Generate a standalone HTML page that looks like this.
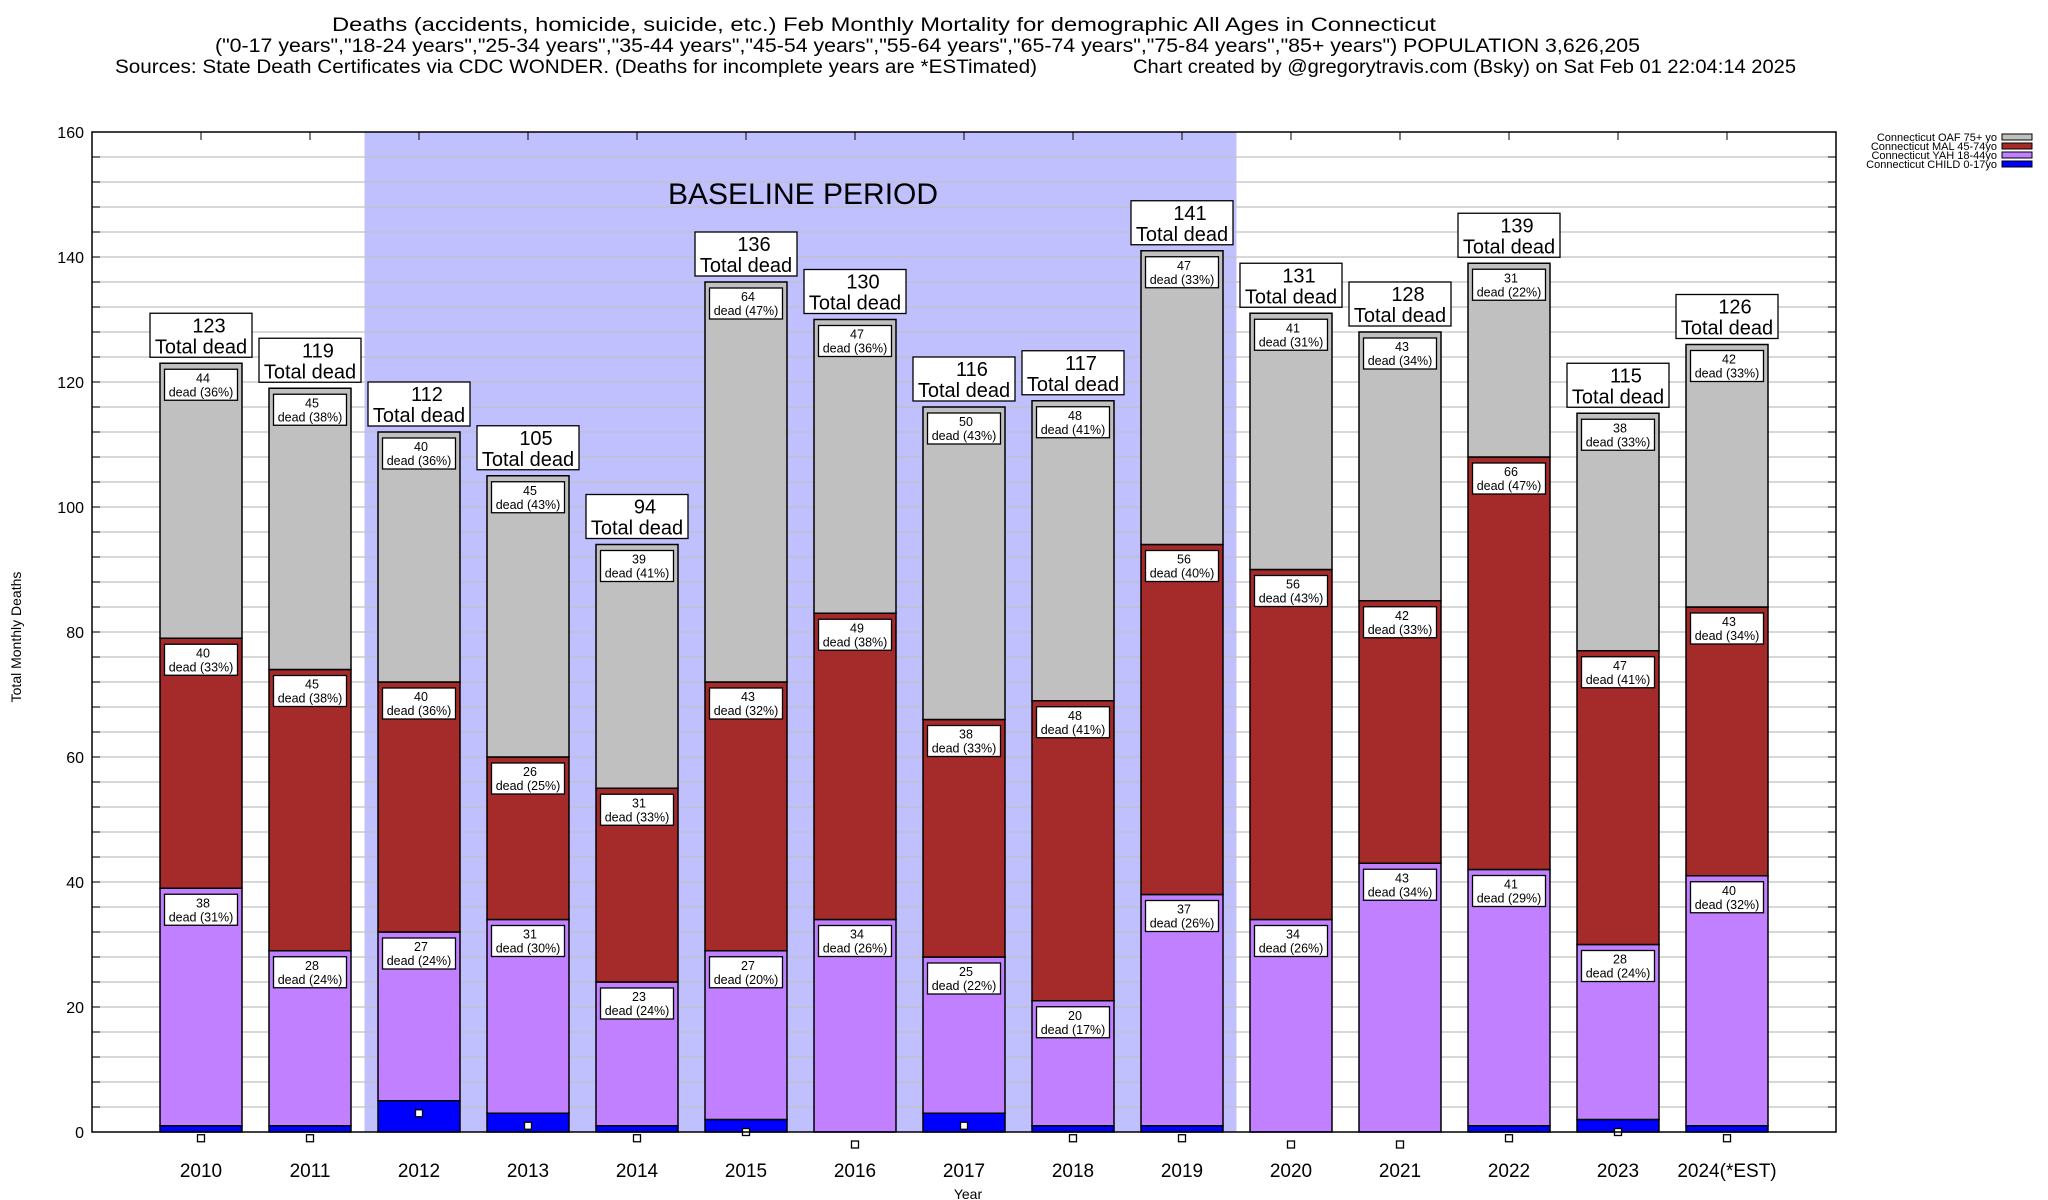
<!DOCTYPE html>
<html><head><meta charset="utf-8">
<style>
html,body{margin:0;padding:0;background:#fff;}
svg{display:block;font-family:"Liberation Sans",sans-serif;}
</style></head>
<body>
<svg id="chart" width="2048" height="1200" viewBox="0 0 2048 1200" xmlns="http://www.w3.org/2000/svg">
<g font-size="19" fill="#000">
<text x="332" y="31" textLength="1104" lengthAdjust="spacingAndGlyphs">Deaths (accidents, homicide, suicide, etc.) Feb Monthly Mortality for demographic All Ages in Connecticut</text>
<text x="215" y="52" textLength="1425" lengthAdjust="spacingAndGlyphs">("0-17 years","18-24 years","25-34 years","35-44 years","45-54 years","55-64 years","65-74 years","75-84 years","85+ years") POPULATION 3,626,205</text>
<text x="115" y="73" textLength="922" lengthAdjust="spacingAndGlyphs">Sources: State Death Certificates via CDC WONDER. (Deaths for incomplete years are *ESTimated)</text>
<text x="1133" y="73" textLength="663" lengthAdjust="spacingAndGlyphs">Chart created by @gregorytravis.com (Bsky) on Sat Feb 01 22:04:14 2025</text>
</g>
<g id="plot"></g>
</svg>
<script>
const years = ["2010","2011","2012","2013","2014","2015","2016","2017","2018","2019","2020","2021","2022","2023","2024(*EST)"];
const child = [1,1,5,3,1,2,0,3,1,1,0,0,1,2,1];
const yah = [38,28,27,31,23,27,34,25,20,37,34,43,41,28,40];
const mal = [40,45,40,26,31,43,49,38,48,56,56,42,66,47,43];
const oaf = [44,45,40,45,39,64,47,50,48,47,41,43,31,38,42];
const yTicks = [0,20,40,60,80,100,120,140,160];
const baselineRange = [1.5, 9.5];

const NS="http://www.w3.org/2000/svg";
const L=92,R=1836,T=132,B=1132;
const xDom=[-1,15], yDom=[0,160];
const x=i=>L+(i-xDom[0])/(xDom[1]-xDom[0])*(R-L);
const y=v=>B-(v-yDom[0])/(yDom[1]-yDom[0])*(B-T);
const plot=document.getElementById('plot');
function el(tag,attrs,parent,text){const e=document.createElementNS(NS,tag);for(const k in attrs)e.setAttribute(k,attrs[k]);if(text!==undefined)e.textContent=text;(parent||plot).appendChild(e);return e;}

const bl=el('rect',{x:x(baselineRange[0]),y:T,width:x(baselineRange[1])-x(baselineRange[0]),height:B-T,fill:'#c0c0ff'});


for(let v=4;v<160;v+=4){const g=el('line',{x1:L,x2:R,y1:y(v),y2:y(v),stroke:'#c0c0c0','stroke-width':1.3});


el('line',{x1:L,x2:L+8,y1:y(v),y2:y(v),stroke:'#000'});el('line',{x1:R-8,x2:R,y1:y(v),y2:y(v),stroke:'#000'});}
const bt=el('text',{x:803,y:204,'font-size':30,'text-anchor':'middle'},plot,'BASELINE PERIOD');


yTicks.forEach(v=>{const t=el('text',{x:84,y:y(v)+6,'font-size':16,'text-anchor':'end'},plot,String(v));

});
const yt=el('text',{x:0,y:0,'font-size':14,'text-anchor':'middle',transform:'translate(21,637) rotate(-90)'},plot,'Total Monthly Deaths');


const xt=el('text',{x:968,y:1199,'font-size':14,'text-anchor':'middle'},plot,'Year');



const colors={child:'#0000ff',yah:'#c080ff',mal:'#a52a2a',oaf:'#c0c0c0'};
const bw=82;
years.forEach((yr,i)=>{
 const cx=x(i), total=child[i]+yah[i]+mal[i]+oaf[i];
 el('line',{x1:cx,x2:cx,y1:T,y2:T+8,stroke:'#000'});
 el('line',{x1:cx,x2:cx,y1:B,y2:B-8,stroke:'#000'});
 const segs=[['child',child[i]],['yah',yah[i]],['mal',mal[i]],['oaf',oaf[i]]];
 let base=0;
 segs.forEach(([k,v])=>{
  if(v>0){const r=el('rect',{x:cx-bw/2,y:y(base+v),width:bw,height:y(base)-y(base+v),fill:colors[k],stroke:'#000','stroke-width':1.5});
  
  }
  if(k==='child'){
   const sq=el('rect',{x:cx-3.5,y:y(v-2)-3.5,width:7,height:7,fill:'#fff',stroke:'#000','stroke-width':1.3});
   
   
  } else {
   const top=y(base+v)+6;
   const g=el('g',{});
   
   
   el('rect',{x:cx-36.5,y:top,width:73,height:31,fill:'#fff',stroke:'#000','stroke-width':1.3},g);
   el('text',{x:cx+2,y:top+13,'font-size':12.5,'text-anchor':'middle'},g,String(v));
   el('text',{x:cx,y:top+27,'font-size':12.5,'text-anchor':'middle'},g,'dead ('+Math.round(v/total*100)+'%)');
  }
  base+=v;
 });
 const tt=y(total)-6;
 const g=el('g',{});
 
 
 el('rect',{x:cx-51,y:tt-44,width:102,height:44,fill:'#fff',stroke:'#000','stroke-width':1.3},g);
 el('text',{x:cx+8,y:tt-25,'font-size':20,'text-anchor':'middle'},g,String(total));
 el('text',{x:cx,y:tt-4,'font-size':20,'text-anchor':'middle'},g,'Total dead');
 const xl=el('text',{x:cx,y:1177,'font-size':19,'text-anchor':'middle'},plot,yr);
 
 
});
const fr=el('rect',{x:L,y:T,width:R-L,height:B-T,fill:'none',stroke:'#000','stroke-width':1.5});



const legItems=[['Connecticut OAF 75+ yo','oaf'],['Connecticut MAL 45-74yo','mal'],['Connecticut YAH 18-44yo','yah'],['Connecticut CHILD 0-17yo','child']];
legItems.forEach(([lab,k],j)=>{
 const g=el('g',{});
 
 
 const yy=137+j*9;
 el('text',{x:1997,y:yy+4,'font-size':11,'text-anchor':'end'},g,lab);
 el('rect',{x:2002,y:yy-3,width:30,height:6,fill:colors[k],stroke:'#000','stroke-width':1},g);
});
</script>
</body></html>
